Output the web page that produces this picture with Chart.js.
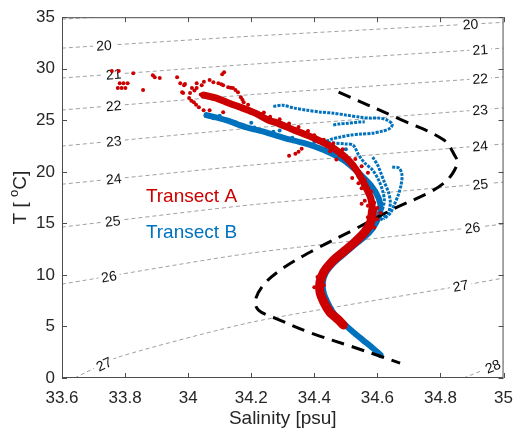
<!DOCTYPE html>
<html>
<head>
<meta charset="utf-8">
<script src="https://cdn.jsdelivr.net/npm/chart.js@4.4.0/dist/chart.umd.min.js"></script>
<style>
  html, body { margin: 0; padding: 0; background: #fff; }
</style>
</head>
<body>
<canvas id="ts" width="523" height="431"></canvas>
<script>
// tick labels
const xTicks = [33.6, 33.8, 34, 34.2, 34.4, 34.6, 34.8, 35];
const yTicks = [0, 5, 10, 15, 20, 25, 30, 35];

// sigma-t contours, [salinity, temperature]
const sigmaLevels = [19, 20, 21, 22, 23, 24, 25, 26, 27, 28];
const sigma19 = [[33.6, 34.8], [33.75, 35.1]];
const sigma20 = [[33.6, 32.0], [34.2, 33.16], [35, 34.5]];
const sigma21 = [[33.6, 29.1], [34.2, 30.44], [35, 32.0]];
const sigma22 = [[33.6, 26.0], [34.2, 27.49], [35, 29.2]];
const sigma23 = [[33.6, 22.5], [34.2, 24.24], [35, 26.2]];
const sigma24 = [[33.6, 18.8], [34.2, 20.65], [35, 22.7]];
const sigma25 = [[33.6, 14.64], [34.2, 16.8], [35, 19.0]];
const sigma26 = [[33.6, 9.11], [34.2, 12.12], [35, 14.93]];
const sigma27 = [[33.64, 0], [33.78, 2.04], [34.204, 5.43], [34.842, 8.82], [35, 9.7]];
const sigma28 = [[34.873, 0], [35, 1.55]];
const sigmaLines = [sigma19, sigma20, sigma21, sigma22, sigma23, sigma24, sigma25, sigma26, sigma27, sigma28];

// black dashed reference profile
const refProfile = [
  [34.477, 27.73], [34.678, 25.01], [34.811, 23.08], [34.848, 21.43], [34.854, 20.94],
  [34.839, 19.88], [34.811, 18.91], [34.761, 17.94], [34.656, 16.48], [34.523, 14.35],
  [34.399, 12.41], [34.306, 10.76], [34.244, 9.21], [34.213, 7.56], [34.223, 6.59],
  [34.275, 5.82], [34.39, 4.36], [34.523, 3.01], [34.616, 2.04], [34.672, 1.45]
];

// Transect A (red)
const redLoose = [
  [33.758, 29.77], [33.78, 29.77], [33.826, 29.57], [33.888, 29.38], [33.894, 29.18],
  [33.91, 29.09], [33.965, 29.18], [33.975, 28.6], [33.99, 28.51], [33.984, 27.64],
  [33.783, 28.6], [33.795, 28.6], [33.808, 28.6], [33.777, 28.12], [33.789, 28.12],
  [33.801, 28.12], [33.857, 27.93], [34.114, 29.67], [34.108, 29.47]
];
const redCluster = [
  [34.027, 28.6], [34.043, 28.41], [34.068, 28.9], [34.096, 28.6], [34.111, 28.41],
  [34.127, 28.21], [34.142, 28.12], [34.158, 27.73], [34.167, 27.24], [34.176, 26.76],
  [34.012, 28.12], [34.006, 27.64], [34.003, 27.15], [34.018, 26.76], [34.034, 26.27],
  [34.049, 25.98], [34.068, 25.98], [34.111, 25.79], [33.987, 28.41], [33.981, 27.73],
  [34.027, 28.12], [34.05, 28.75], [34.08, 28.7], [34.105, 28.5], [34.135, 28.15],
  [34.15, 27.95], [34.172, 27.0], [34.02, 27.9], [34.04, 27.5], [34.06, 27.3],
  [34.01, 26.9], [34.025, 26.5]
];
const redBandUpper = [
  [34.049, 27.44], [34.089, 27.15], [34.13, 26.66], [34.173, 26.18], [34.213, 25.69],
  [34.254, 25.01], [34.275, 24.82], [34.337, 24.04], [34.399, 23.27], [34.461, 22.3],
  [34.508, 21.14], [34.538, 19.97], [34.56, 18.71], [34.579, 17.45], [34.585, 16.29]
];
const redBandLower = [
  [34.585, 16.29], [34.579, 15.13], [34.56, 14.16], [34.529, 13.19], [34.492, 12.22],
  [34.455, 11.25], [34.43, 10.28], [34.418, 9.31], [34.418, 8.34], [34.43, 7.37],
  [34.449, 6.4], [34.477, 5.62], [34.492, 5.14]
];
const redDots = [
  [34.26, 25.35], [34.29, 25.1], [34.3, 24.55], [34.32, 24.7], [34.35, 24.35],
  [34.36, 23.7], [34.38, 23.95], [34.4, 23.55], [34.41, 22.95], [34.43, 23.1],
  [34.44, 22.45], [34.46, 22.75], [34.47, 21.95], [34.49, 22.2], [34.5, 21.55],
  [34.51, 20.85], [34.53, 21.25], [34.53, 20.4], [34.55, 20.55], [34.54, 19.55],
  [34.56, 19.2], [34.57, 19.9], [34.55, 18.4], [34.58, 18.1], [34.57, 17.8],
  [34.59, 17.0], [34.57, 16.7], [34.6, 16.5], [34.57, 15.6], [34.6, 15.4],
  [34.59, 14.6], [34.36, 22.25], [34.35, 21.95], [34.34, 21.75], [34.32, 21.55],
  [34.47, 21.2], [34.52, 19.4], [34.44, 10.9], [34.41, 9.8], [34.4, 8.8],
  [34.43, 9.0], [34.42, 7.8], [34.2, 25.95], [34.23, 25.6], [34.16, 26.2],
  [34.19, 26.5], [34.24, 25.75], [34.45, 22.0], [34.48, 21.6], [34.54, 18.9],
  [34.56, 17.2], [34.55, 16.9], [34.61, 16.0]
];

// Transect B (blue)
const blueBand = [
  [34.058, 25.5], [34.12, 25.01], [34.182, 24.34], [34.244, 23.85], [34.306, 23.27],
  [34.368, 22.78], [34.43, 22.11], [34.492, 21.14], [34.538, 19.97], [34.579, 18.71],
  [34.604, 17.45], [34.61, 16.29], [34.597, 15.13], [34.573, 14.06], [34.535, 13.09],
  [34.498, 12.12], [34.461, 11.15], [34.436, 10.18], [34.427, 9.21], [34.43, 8.24],
  [34.443, 7.27], [34.461, 6.3], [34.492, 5.33], [34.523, 4.46], [34.554, 3.68],
  [34.585, 2.91], [34.61, 2.23]
];
const blueLoop = [
  [34.27, 26.35], [34.3, 26.45], [34.337, 26.18], [34.377, 25.98], [34.421, 25.79],
  [34.461, 25.69], [34.501, 25.5], [34.545, 25.31], [34.576, 25.21], [34.607, 25.21],
  [34.631, 25.01], [34.647, 24.63], [34.641, 24.24], [34.616, 23.95], [34.585, 23.75],
  [34.548, 23.66], [34.514, 23.56], [34.483, 23.37], [34.455, 23.17], [34.43, 22.88]
];
const blueLoop2 = [[34.46, 24.55], [34.477, 24.63], [34.508, 24.72], [34.538, 24.82], [34.56, 24.85]];
const blueFanA = [
  [34.43, 22.88], [34.5, 22.7], [34.523, 22.59], [34.541, 21.62], [34.56, 20.85],
  [34.585, 20.17], [34.604, 19.2], [34.616, 18.23], [34.622, 17.26], [34.616, 16.29]
];
const blueFanB = [
  [34.585, 21.43], [34.601, 20.65], [34.61, 19.97], [34.622, 19.0], [34.635, 18.03],
  [34.641, 17.06], [34.635, 16.09], [34.61, 15.3]
];
const blueFanC = [
  [34.647, 20.46], [34.669, 20.36], [34.678, 19.68], [34.675, 18.71], [34.666, 17.74],
  [34.653, 16.77], [34.641, 16.0], [34.62, 15.4]
];
const blueDots = [
  [34.08, 25.2], [34.15, 24.8], [34.21, 24.3], [34.27, 23.9], [34.33, 23.3],
  [34.1, 25.45], [34.2, 24.75], [34.29, 24.0], [34.4, 22.9], [34.5, 22.2]
];

// where the contour numbers sit (salinity along each line)
const sigmaLabelAt = [[], [33.733, 34.895], [33.764, 34.926], [33.764, 34.926], [33.764, 34.926],
  [33.764, 34.926], [33.761, 34.926], [33.749, 34.901], [33.733, 34.864], [34.966]];

const RED = "#cc0000";
const BLUE = "#0072bd";
const FONT = '"Liberation Sans", Arial, Helvetica, sans-serif';

function pts(arr) {
  return arr.map((p) => ({ x: p[0], y: p[1] }));
}

function band(arr, color, width) {
  return {
    data: pts(arr), showLine: true, borderColor: color, borderWidth: width,
    pointRadius: 0, borderCapStyle: "round", borderJoinStyle: "round", tension: 0.3,
  };
}

function dots(arr, color, r) {
  return { data: pts(arr), showLine: false, backgroundColor: color, pointRadius: r, pointBorderWidth: 0 };
}

// blue profiles look like chains of dots
function dottedLine(arr, color) {
  return {
    data: pts(arr), showLine: true, borderColor: color, borderWidth: 3, tension: 0.3,
    borderDash: [3, 1.2], pointRadius: 0,
  };
}

const datasets = [
  dots(redLoose, RED, 2),
  dots(redCluster, RED, 2),
  dots(redDots, RED, 2),
  band(redBandUpper, RED, 7),
  band(redBandLower, RED, 9),
  {
    data: pts(refProfile), showLine: true, borderColor: "#000", borderWidth: 3,
    borderDash: [13, 8], pointRadius: 0, tension: 0.35,
  },
  dots(blueDots, BLUE, 2),
  band(blueBand, BLUE, 6),
  dottedLine(blueLoop, BLUE),
  dottedLine(blueLoop2, BLUE),
  dottedLine(blueFanA, BLUE),
  dottedLine(blueFanB, BLUE),
  dottedLine(blueFanC, BLUE),
];

sigmaLines.forEach((line, i) => {
  datasets.push({
    data: pts(line), showLine: true, borderColor: "#a0a0a0", borderWidth: 1,
    borderDash: [4, 3], pointRadius: 0, tension: 0.2, sigmaIdx: i,
  });
});

// contour numbers, drawn right after each contour line so data sits on top
const contourLabels = {
  id: "contourLabels",
  afterDatasetDraw(chart, args) {
    const ds = chart.data.datasets[args.index];
    if (ds.sigmaIdx === undefined) return;
    const i = ds.sigmaIdx;
    const line = sigmaLines[i];
    const { ctx, scales: { x, y } } = chart;
    ctx.save();
    ctx.font = "14px " + FONT;
    ctx.textAlign = "center";
    ctx.textBaseline = "middle";
    sigmaLabelAt[i].forEach((s) => {
      for (let k = 0; k < line.length - 1; k++) {
        const [s0, t0] = line[k];
        const [s1, t1] = line[k + 1];
        if (s < s0 || s > s1) continue;
        const t = t0 + ((s - s0) / (s1 - s0)) * (t1 - t0);
        const px = x.getPixelForValue(s);
        const py = y.getPixelForValue(t);
        const ang = Math.atan2(
          y.getPixelForValue(t1) - y.getPixelForValue(t0),
          x.getPixelForValue(s1) - x.getPixelForValue(s0)
        );
        const txt = String(sigmaLevels[i]);
        const w = ctx.measureText(txt).width;
        ctx.save();
        ctx.translate(px, py);
        ctx.rotate(ang);
        ctx.fillStyle = "#fff";
        ctx.fillRect(-w / 2 - 3, -6, w + 6, 12);
        ctx.fillStyle = "#111";
        ctx.fillText(txt, 0, 1);
        ctx.restore();
        break;
      }
    });
    ctx.restore();
  },
};

// box, inward ticks, titles and transect names
const frame = {
  id: "frame",
  afterDraw(chart) {
    const { ctx, chartArea: a, scales: { x, y } } = chart;
    ctx.save();
    ctx.strokeStyle = "#4d4d4d";
    ctx.lineWidth = 1;
    ctx.strokeRect(a.left + 0.5, a.top + 0.5, a.right - a.left - 1, a.bottom - a.top - 1);
    ctx.beginPath();
    xTicks.forEach((v) => {
      const px = Math.round(x.getPixelForValue(v)) + 0.5;
      ctx.moveTo(px, a.bottom); ctx.lineTo(px, a.bottom - 5);
      ctx.moveTo(px, a.top); ctx.lineTo(px, a.top + 5);
    });
    yTicks.forEach((v) => {
      const py = Math.round(y.getPixelForValue(v)) + 0.5;
      ctx.moveTo(a.left, py); ctx.lineTo(a.left + 5, py);
      ctx.moveTo(a.right, py); ctx.lineTo(a.right - 5, py);
    });
    ctx.stroke();

    // x title
    ctx.fillStyle = "#262626";
    ctx.font = "19px " + FONT;
    ctx.textAlign = "center";
    ctx.textBaseline = "alphabetic";
    ctx.fillText("Salinity [psu]", (a.left + a.right) / 2, 424);

    // y title with raised o
    ctx.save();
    ctx.translate(20, (a.top + a.bottom) / 2);
    ctx.rotate(-Math.PI / 2);
    ctx.textAlign = "left";
    const p1 = "T [ ", p2 = "o", p3 = "C]";
    ctx.font = "19px " + FONT;
    const w1 = ctx.measureText(p1).width, w3 = ctx.measureText(p3).width;
    ctx.font = "13px " + FONT;
    const w2 = ctx.measureText(p2).width;
    let cx = -(w1 + w2 + w3) / 2;
    ctx.font = "19px " + FONT;
    ctx.fillText(p1, cx, 6); cx += w1;
    ctx.font = "13px " + FONT;
    ctx.fillText(p2, cx, -2); cx += w2;
    ctx.font = "19px " + FONT;
    ctx.fillText(p3, cx, 6);
    ctx.restore();

    // transect names
    ctx.font = "19px " + FONT;
    ctx.textAlign = "left";
    ctx.textBaseline = "middle";
    ctx.fillStyle = RED;
    ctx.fillText("Transect A", x.getPixelForValue(33.866), y.getPixelForValue(17.6));
    ctx.fillStyle = BLUE;
    ctx.fillText("Transect B", x.getPixelForValue(33.866), y.getPixelForValue(14.06));
    ctx.restore();
  },
};

new Chart(document.getElementById("ts"), {
  type: "scatter",
  data: { datasets: datasets },
  options: {
    responsive: false,
    animation: false,
    layout: { padding: { top: 17, right: 9, left: 0, bottom: 0 } },
    plugins: { legend: { display: false }, tooltip: { enabled: false } },
    scales: {
      x: {
        type: "linear", min: 33.6, max: 35,
        grid: { display: false, drawTicks: false },
        border: { display: false },
        afterBuildTicks: (s) => { s.ticks = xTicks.map((v) => ({ value: v })); },
        afterFit: (s) => { s.height = 53; },
        ticks: { padding: 10, color: "#262626", font: { family: FONT, size: 17 }, callback: (v) => String(v) },
      },
      y: {
        type: "linear", min: 0, max: 35,
        grid: { display: false, drawTicks: false },
        border: { display: false },
        afterBuildTicks: (s) => { s.ticks = yTicks.map((v) => ({ value: v })); },
        afterFit: (s) => { s.width = 62; },
        ticks: { padding: 7, color: "#262626", font: { family: FONT, size: 17 }, callback: (v) => String(v) },
      },
    },
  },
  plugins: [contourLabels, frame],
});
</script>
</body>
</html>
